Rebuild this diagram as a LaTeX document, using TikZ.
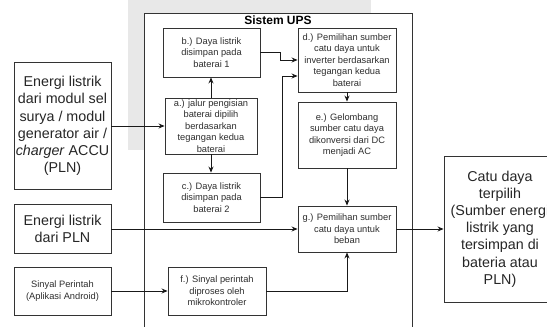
\documentclass[tikz,border=0pt]{standalone}
\usepackage{fontspec}
\setmainfont{Liberation Sans}
\usepackage{tikz}
\usetikzlibrary{arrows.meta,calc}
\definecolor{lineGray}{rgb}{0.2,0.2,0.2}
\definecolor{textGray}{rgb}{0.18,0.18,0.18}
\definecolor{markGray}{rgb}{0.91,0.91,0.91}

\begin{document}
\begin{tikzpicture}[x=1pt,y=-1pt,
    stepBox/.style={draw=lineGray,line width=0.9pt,fill=white,text=textGray,align=center,
      inner sep=1pt,font=\fontsize{9.3}{11.4}\selectfont},
    srcBox/.style={draw=lineGray,line width=0.9pt,fill=white,text=black!85,align=center,
      inner sep=1pt,font=\fontsize{14.3}{17.2}\selectfont},
    flow/.style={draw=black!90,line width=0.8pt,-{Stealth[length=6pt,width=5pt]}}]
    \useasboundingbox (0,0) rectangle (547,327);
    \clip (0,0) rectangle (547,327);
    \fill[white] (0,0) rectangle (547,327);
    \fill[markGray] (128,0) rectangle (371,150);

    % UPS system frame
    \node[draw=lineGray,line width=0.9pt,fill=white,minimum width=268,minimum height=330,inner sep=0pt,anchor=north west]
      (ups) at (144,13) {};
    \node[font=\bfseries\fontsize{12}{14}\selectfont,text=black] (upsTitle) at (278,20) {Sistem UPS};

    % inner steps
    \node[stepBox,minimum width=97,minimum height=49] (b) at (211.5,52.5) {b.) Daya listrik\\disimpan pada\\baterai 1};
    \node[stepBox,minimum width=92,minimum height=56] (a) at (211,126) {a.) jalur pengisian\\baterai dipilih\\berdasarkan\\tegangan kedua\\baterai};
    \node[stepBox,minimum width=97,minimum height=49] (c) at (211.5,197.5) {c.) Daya listrik\\disimpan pada\\baterai 2};
    \node[stepBox,minimum width=98,minimum height=64] (d) at (347,60) {d.) Pemilihan sumber\\catu daya untuk\\inverter berdasarkan\\tegangan kedua\\baterai};
    \node[stepBox,minimum width=98,minimum height=66] (e) at (347,135) {e.) Gelombang\\sumber catu daya\\dikonversi dari DC\\menjadi AC};
    \node[stepBox,minimum width=98,minimum height=46] (g) at (347,229) {g.) Pemilihan sumber\\catu daya untuk\\beban};
    \node[stepBox,minimum width=98,minimum height=48] (f) at (217,291) {f.) Sinyal perintah\\diproses oleh\\mikrokontroler};

    % sources and output
    \node[srcBox,minimum width=97,minimum height=127] (srcModul) at (62.5,126) {Energi listrik\\dari modul sel\\surya / modul\\generator air /\\\textit{charger} ACCU\\(PLN)};
    \node[srcBox,minimum width=97,minimum height=49] (srcPLN) at (62.5,229) {Energi listrik\\dari PLN};
    \node[stepBox,minimum width=97,minimum height=48] (srcApp) at (62.5,291) {Sinyal Perintah\\(Aplikasi Android)};
    \node[srcBox,minimum width=112,minimum height=146] (out) at (500,229) {Catu daya\\terpilih\\(Sumber energi\\listrik yang\\tersimpan di\\bateria atau\\PLN)};

    \coordinate (dIn) at ($(d.west)+(0,16)$);

    \draw[flow] (srcModul.east) -- (srcModul.east -| a.west);
    \draw[flow] (a.north) -- (a.north |- b.south);
    \draw[flow] (a.south) -- (a.south |- c.north);
    \draw[flow] (b.east) -- ++(20,0) |- (d.west);
    \draw[flow] (c.east) -- ++(22,0) |- (dIn);
    \draw[flow] (d.south) -- (d.south |- e.north);
    \draw[flow] (e.south) -- (e.south |- g.north);
    \draw[flow] (srcPLN.east) -- (srcPLN.east -| g.west);
    \draw[flow] (srcApp.east) -- (srcApp.east -| f.west);
    \draw[flow] (f.east) -| (g.south);
    \draw[flow] (g.east) -- (g.east -| out.west);
\end{tikzpicture}
\end{document}
